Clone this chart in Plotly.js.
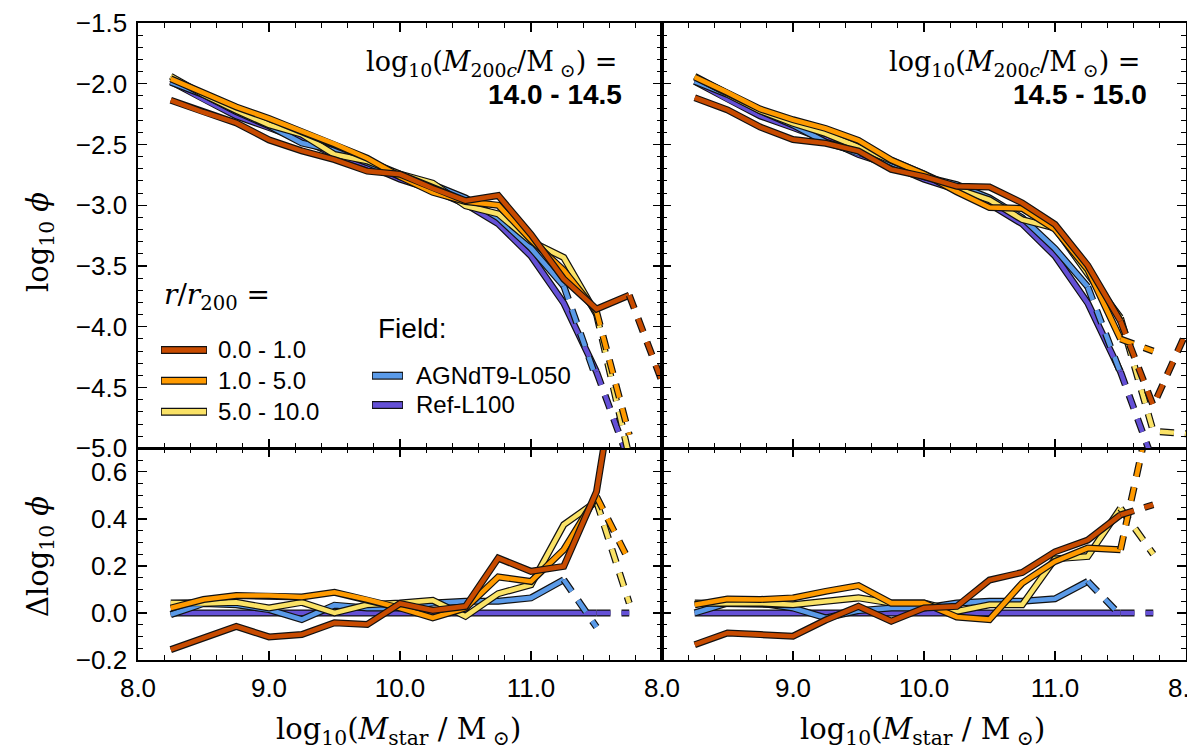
<!DOCTYPE html>
<html>
<head>
<meta charset="utf-8">
<script src="https://cdn.plot.ly/plotly-3.0.1.min.js"></script>
<style>
  html, body { margin: 0; padding: 0; background: #fff; overflow: hidden; }
  #fig { width: 1187px; height: 752px; }
</style>
</head>
<body>
<div id="fig"></div>
<script>
// Stellar mass bin centres, log10(Mstar / Msun)
const logMstar = [8.25, 8.5, 8.75, 9.0, 9.25, 9.5, 9.75, 10.0, 10.25, 10.5, 10.75, 11.0, 11.25, 11.5, 11.75, 12.0];

// Field reference mass function (Ref-L100), shared by both halo-mass panels
const phiRefL100 = [-1.98, -2.13, -2.265, -2.36, -2.46, -2.582, -2.67, -2.785, -2.872, -2.99, -3.153, -3.417, -3.805, -4.37, -5.11, null];

// log10(M200c) = 14.0 - 14.5
const phiAgnLo = [-1.987, -2.09, -2.23, -2.346, -2.488, -2.549, -2.649, -2.764, -2.83, -2.94, -3.103, -3.353, -3.664, -4.43, null, null];
const phiR0Lo  = [-2.136, -2.235, -2.322, -2.462, -2.552, -2.624, -2.719, -2.745, -2.861, -2.962, -2.92, -3.24, -3.607, -3.854, -3.74, -4.45];
const phiR1Lo  = [-1.959, -2.073, -2.191, -2.286, -2.392, -2.494, -2.613, -2.764, -2.893, -2.969, -3.0, -3.283, -3.536, -3.875, -4.89, null];
const phiR5Lo  = [-1.938, -2.09, -2.22, -2.339, -2.415, -2.582, -2.635, -2.743, -2.818, -3.004, -3.071, -3.297, -3.43, -3.896, -5.068, null];

const dRef    = [0, 0, 0, 0, 0, 0, 0, 0, 0, 0, 0, 0, 0, 0, 0, null];
const dAgnLo  = [-0.007, 0.04, 0.035, 0.014, -0.028, 0.033, 0.021, 0.021, 0.042, 0.05, 0.05, 0.064, 0.141, -0.06, null, null];
const dR0Lo   = [-0.156, -0.105, -0.057, -0.102, -0.092, -0.042, -0.049, 0.040, 0.011, 0.028, 0.233, 0.177, 0.198, 0.516, 1.37, null];
const dR1Lo   = [0.021, 0.057, 0.074, 0.074, 0.068, 0.088, 0.057, 0.021, -0.021, 0.021, 0.153, 0.134, 0.269, 0.495, 0.22, null];
const dR5Lo   = [0.042, 0.04, 0.045, 0.021, 0.045, 0.0, 0.035, 0.042, 0.054, -0.014, 0.082, 0.12, 0.375, 0.474, 0.042, null];

// log10(M200c) = 14.5 - 15.0
const phiAgnHi = [-1.98, -2.088, -2.223, -2.339, -2.481, -2.572, -2.649, -2.764, -2.83, -2.94, -3.103, -3.357, -3.671, -4.38, null, null];
const phiR0Hi  = [-2.115, -2.215, -2.357, -2.459, -2.49, -2.554, -2.705, -2.764, -2.844, -2.85, -2.981, -3.157, -3.495, -3.953, -4.65, -4.05];
const phiR1Hi  = [-1.945, -2.071, -2.208, -2.296, -2.368, -2.466, -2.628, -2.743, -2.889, -3.018, -3.026, -3.198, -3.529, -4.101, -4.2, null];
const phiR5Hi  = [-1.938, -2.088, -2.223, -2.325, -2.41, -2.518, -2.628, -2.743, -2.865, -2.955, -3.118, -3.187, -3.565, -3.925, -4.86, -4.88];

const dAgnHi  = [0.0, 0.042, 0.042, 0.021, -0.021, 0.01, 0.021, 0.021, 0.042, 0.05, 0.05, 0.06, 0.134, -0.01, null, null];
const dR0Hi   = [-0.135, -0.085, -0.092, -0.099, -0.03, 0.028, -0.035, 0.021, 0.028, 0.14, 0.172, 0.26, 0.31, 0.417, 0.46, null];
const dR1Hi   = [0.035, 0.059, 0.057, 0.064, 0.092, 0.116, 0.042, 0.042, -0.017, -0.028, 0.127, 0.219, 0.276, 0.269, 0.91, null];
const dR5Hi   = [0.042, 0.042, 0.042, 0.035, 0.05, 0.064, 0.042, 0.042, 0.007, 0.035, 0.035, 0.23, 0.24, 0.445, 0.25, null];

// Labels
const radialLabels = ['0.0 - 1.0', '1.0 - 5.0', '5.0 - 10.0'];
const fieldLabels = ['AGNdT9-L050', 'Ref-L100'];
const haloLabels = ['14.0 - 14.5', '14.5 - 15.0'];
const xTickVals = [8, 9, 10, 11, 12];
const xTickTextLeft = ['8.0', '9.0', '10.0', '11.0', ''];
const xTickTextRight = ['8.0', '9.0', '10.0', '11.0', '8.0'];

// Colours
const colR0 = '#c84b00', colR1 = '#ff9a00', colR5 = '#fae266', colAgn = '#5a9ae8', colRef = '#6450d6';

// Figure geometry (pixels)
const FIG_W = 1187, FIG_H = 752;
const PL = 138, PR = 1186, PT = 23, PB = 660, PSPLIT = 448.3;
const paperX = px => (px - PL) / (PR - PL);
const paperY = py => (PB - py) / (PB - PT);
const ySplit = paperY(PSPLIT);

const DASH = '14px,11px';
const traces = [];

function addSeries(xa, ya, y, color, lastSolid) {
  const parts = [
    {x: logMstar.slice(0, lastSolid + 1), y: y.slice(0, lastSolid + 1), dash: 'solid'},
    {x: logMstar.slice(lastSolid), y: y.slice(lastSolid), dash: DASH}
  ];
  parts.forEach(p => {
    traces.push({x: p.x, y: p.y, xaxis: xa, yaxis: ya, type: 'scatter', mode: 'lines',
      line: {color: '#111', width: 7, dash: p.dash}, hoverinfo: 'skip', showlegend: false});
    traces.push({x: p.x, y: p.y, xaxis: xa, yaxis: ya, type: 'scatter', mode: 'lines',
      line: {color: color, width: 4.6, dash: p.dash}, hoverinfo: 'skip', showlegend: false});
  });
}

// Top-left: phi, 14.0 - 14.5
addSeries('x3', 'y3', phiRefL100, colRef, 13);
addSeries('x3', 'y3', phiAgnLo, colAgn, 12);
addSeries('x3', 'y3', phiR5Lo, colR5, 13);
addSeries('x3', 'y3', phiR1Lo, colR1, 13);
addSeries('x3', 'y3', phiR0Lo, colR0, 14);
// Top-right: phi, 14.5 - 15.0
addSeries('x4', 'y4', phiRefL100, colRef, 13);
addSeries('x4', 'y4', phiAgnHi, colAgn, 12);
addSeries('x4', 'y4', phiR5Hi, colR5, 13);
addSeries('x4', 'y4', phiR1Hi, colR1, 13);
addSeries('x4', 'y4', phiR0Hi, colR0, 13);
// Bottom-left: difference to Ref-L100
addSeries('x', 'y', dRef, colRef, 13);
addSeries('x', 'y', dAgnLo, colAgn, 12);
addSeries('x', 'y', dR5Lo, colR5, 13);
addSeries('x', 'y', dR1Lo, colR1, 13);
addSeries('x', 'y', dR0Lo, colR0, 14);
// Bottom-right
addSeries('x2', 'y2', dRef, colRef, 13);
addSeries('x2', 'y2', dAgnHi, colAgn, 12);
addSeries('x2', 'y2', dR5Hi, colR5, 13);
addSeries('x2', 'y2', dR1Hi, colR1, 13);
addSeries('x2', 'y2', dR0Hi, colR0, 13);

const SANS = 'Liberation Sans, Arial, Helvetica, sans-serif';
const SERIF = 'DejaVu Serif, Liberation Serif, serif';

const axBase = {
  showline: true, linecolor: '#000', linewidth: 1.6, mirror: 'allticks',
  ticks: 'inside', ticklen: 9, tickwidth: 1.3, tickcolor: '#000',
  showgrid: false, zeroline: false, automargin: false, fixedrange: true,
  tickfont: {family: SANS, size: 26, color: '#000'}, ticklabelstandoff: 4,
  ticklabeloverflow: 'allow'
};
function xAxis(domain, showLabels, text, anchor) {
  return Object.assign({}, axBase, {
    domain: domain, anchor: anchor, range: [8, 12], tickmode: 'array', tickvals: xTickVals,
    ticktext: text, showticklabels: showLabels,
    minor: {tickmode: 'linear', tick0: 8, dtick: 0.2, ticks: 'inside', ticklen: 5, tickwidth: 1, tickcolor: '#000', showgrid: false}
  });
}
function yTop(domain, showLabels, anchor) {
  return Object.assign({}, axBase, {
    domain: domain, anchor: anchor, range: [-5.0, -1.5], tickmode: 'linear', tick0: -5, dtick: 0.5,
    tickformat: '.1f', showticklabels: showLabels,
    minor: {tickmode: 'linear', tick0: -5, dtick: 0.1, ticks: 'inside', ticklen: 5, tickwidth: 1, tickcolor: '#000', showgrid: false}
  });
}
function yBot(domain, showLabels, anchor) {
  return Object.assign({}, axBase, {
    domain: domain, anchor: anchor, range: [-0.2, 0.7], tickmode: 'array', tickvals: [-0.2, 0, 0.2, 0.4, 0.6],
    tickformat: '.1f', showticklabels: showLabels,
    minor: {tickmode: 'linear', tick0: 0, dtick: 0.05, ticks: 'inside', ticklen: 5, tickwidth: 1, tickcolor: '#000', showgrid: false}
  });
}

const xMid = 0.5;
const annotations = [];
const shapes = [];
function note(text, px, py, opts) {
  annotations.push(Object.assign({
    text: text, x: paperX(px), y: paperY(py), xref: 'paper', yref: 'paper',
    showarrow: false, xanchor: 'center', yanchor: 'middle',
    font: {family: SANS, size: 24, color: '#000'}
  }, opts || {}));
}

// Axis titles
const xTitle = 'log<sub>10</sub>(<i>M</i><sub>star</sub> / M<sub> ⊙</sub>)';
note(xTitle, 398, 731, {font: {family: SERIF, size: 29, color: '#000'}});
note(xTitle, 922, 731, {font: {family: SERIF, size: 29, color: '#000'}});
note('log<sub>10</sub> <i>ϕ</i>', 40, 242, {textangle: -90, font: {family: SERIF, size: 29, color: '#000'}});
note('Δlog<sub>10</sub> <i>ϕ</i>', 40, 557, {textangle: -90, font: {family: SERIF, size: 29, color: '#000'}});

// Halo mass bin labels
const haloText = 'log<sub>10</sub>(<i>M</i><sub>200<i>c</i></sub>/M<sub> ⊙</sub>) =';
note(haloText, 619, 64, {xanchor: 'right', font: {family: SERIF, size: 27, color: '#000'}});
note('<b>' + haloLabels[0] + '</b>', 624, 95, {xanchor: 'right', font: {family: SANS, size: 28, color: '#000'}});
note(haloText, 1142, 64, {xanchor: 'right', font: {family: SERIF, size: 27, color: '#000'}});
note('<b>' + haloLabels[1] + '</b>', 1149, 95, {xanchor: 'right', font: {family: SANS, size: 28, color: '#000'}});

// Legend: radial bins
note('<i>r</i>/<i>r</i><sub>200</sub> =', 162, 296, {xanchor: 'left', font: {family: SERIF, size: 28, color: '#000'}});
function legendLine(x0, x1, py, color) {
  shapes.push({type: 'line', xref: 'paper', yref: 'paper', x0: paperX(x0), x1: paperX(x1), y0: paperY(py), y1: paperY(py),
    line: {color: '#111', width: 8}, layer: 'above'});
  shapes.push({type: 'line', xref: 'paper', yref: 'paper', x0: paperX(x0 + 0.8), x1: paperX(x1 - 0.8), y0: paperY(py), y1: paperY(py),
    line: {color: color, width: 5.6}, layer: 'above'});
}
[[colR0, 350], [colR1, 380.7], [colR5, 411.7]].forEach((c, i) => {
  legendLine(161, 207, c[1], c[0]);
  note(radialLabels[i], 216, c[1], {xanchor: 'left'});
});
// Legend: field runs
note('Field:', 376, 328, {xanchor: 'left', font: {family: SANS, size: 28, color: '#000'}});
[[colAgn, 375.7], [colRef, 405]].forEach((c, i) => {
  legendLine(372, 403, c[1], c[0]);
  note(fieldLabels[i], 414, c[1], {xanchor: 'left'});
});

const layout = {
  width: FIG_W, height: FIG_H,
  margin: {l: PL, r: FIG_W - PR, t: PT, b: FIG_H - PB, pad: 0},
  paper_bgcolor: '#fff', plot_bgcolor: '#fff', showlegend: false,
  xaxis: xAxis([0, xMid], true, xTickTextLeft, 'y'),
  xaxis2: xAxis([xMid, 1], true, xTickTextRight, 'y2'),
  xaxis3: xAxis([0, xMid], false, xTickTextLeft, 'y3'),
  xaxis4: xAxis([xMid, 1], false, xTickTextRight, 'y4'),
  yaxis: yBot([0, ySplit], true, 'x'),
  yaxis2: yBot([0, ySplit], false, 'x2'),
  yaxis3: yTop([ySplit, 1], true, 'x3'),
  yaxis4: yTop([ySplit, 1], false, 'x4'),
  annotations: annotations,
  shapes: shapes
};

Plotly.newPlot('fig', traces, layout, {displayModeBar: false, staticPlot: true});
</script>
</body>
</html>
